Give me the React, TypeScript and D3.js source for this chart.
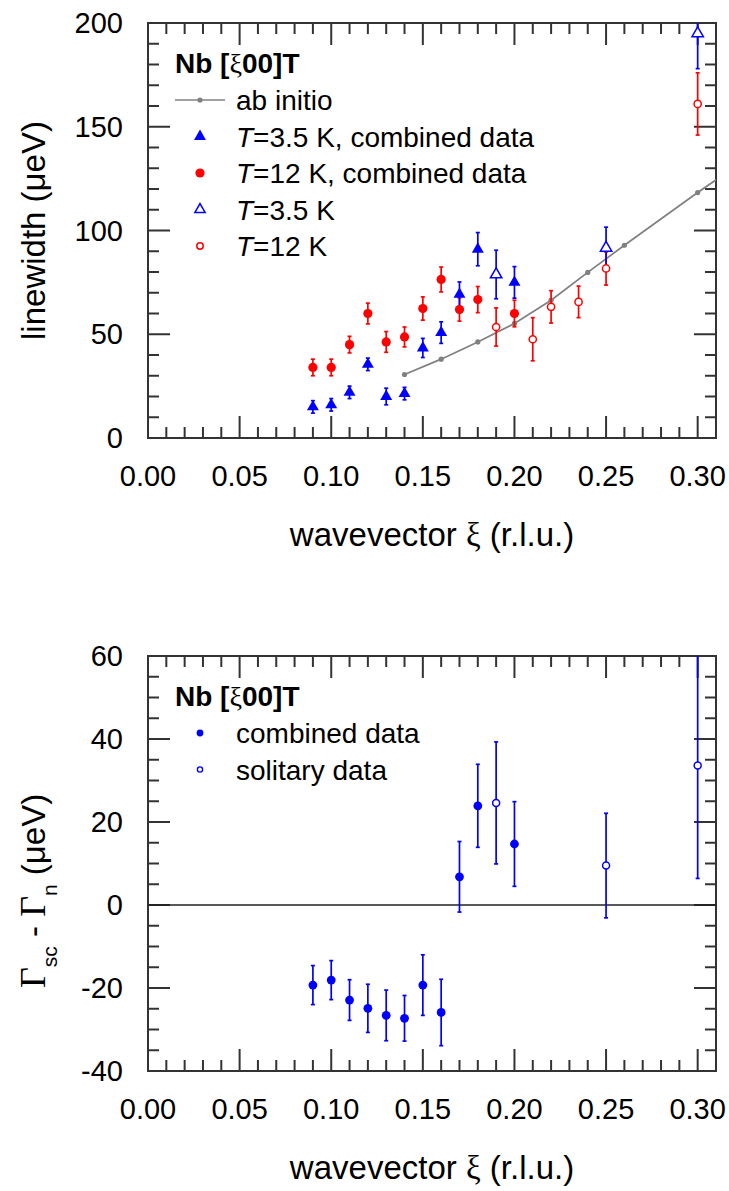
import React from 'react';
import * as d3 from 'd3';

// ---------- data ----------
const abInitioXi = [0.14, 0.16, 0.18, 0.2, 0.22, 0.24, 0.26, 0.3, 0.32];
const abInitioWidth = [30.6, 38.0, 46.3, 55.2, 66.4, 79.8, 92.9, 118.3, 130.5];

const comb35Xi = [0.09, 0.1, 0.11, 0.12, 0.13, 0.14, 0.15, 0.16, 0.17, 0.18, 0.2];
const comb35Width = [15, 16, 22, 35.5, 20, 21.4, 43.4, 50.8, 69.2, 91, 75];
const comb35Err = [3, 3, 3, 3, 4, 3, 4.6, 5.2, 6, 8, 7.6];

const comb12Xi = [0.09, 0.1, 0.11, 0.12, 0.13, 0.14, 0.15, 0.16, 0.17, 0.18, 0.2];
const comb12Width = [34, 34, 45, 60, 46.3, 48.7, 62.4, 76.4, 61.9, 66.7, 60];
const comb12Err = [4, 4, 4, 5, 5, 4.8, 5.6, 6, 5.6, 6.3, 6.4];

const sol35Xi = [0.19, 0.25, 0.3];
const sol35Width = [78.8, 91.6, 195];
const sol35Err = [11.7, 10, 17];

const sol12Xi = [0.19, 0.21, 0.22, 0.235, 0.25, 0.3];
const sol12Width = [53.5, 47.6, 63.2, 65.6, 81.7, 161];
const sol12Err = [9.2, 10.4, 7.8, 7.6, 8, 15];

const diffCombXi = [0.09, 0.1, 0.11, 0.12, 0.13, 0.14, 0.15, 0.16, 0.17, 0.18, 0.2];
const diffCombVal = [-19.3, -18.1, -22.9, -24.9, -26.6, -27.3, -19.3, -25.9, 6.8, 23.9, 14.7];
const diffCombErr = [4.7, 4.7, 4.9, 5.8, 6.1, 5.5, 7.3, 8, 8.5, 10, 10.2];

const diffSolXi = [0.19, 0.25, 0.3];
const diffSolVal = [24.6, 9.5, 33.6];
const diffSolErr = [14.7, 12.6, 27.2];

const xTickLabels = ['0.00', '0.05', '0.10', '0.15', '0.20', '0.25', '0.30'];
const topYTickLabels = ['0', '50', '100', '150', '200'];
const botYTickLabels = ['-40', '-20', '0', '20', '40', '60'];

// ---------- layout ----------
const W = 729;
const H = 1191;
const L = 148;
const R = 716;
const T1 = 23;
const B1 = 438;
const T2 = 656;
const B2 = 1071;
const SANS = '"Liberation Sans", Arial, Helvetica, sans-serif';
const SERIF = '"Liberation Serif", "Times New Roman", serif';
const AX = '#333333';
const BLUE = '#0000ff';
const RED = '#ff0000';
const GRAY = '#808080';
const FS = 28; // legend
const FT = 29; // tick labels
const FA = 33; // axis titles

const x = d3.scaleLinear().domain([0, 0.31]).range([L, R]);
const yTop = d3.scaleLinear().domain([0, 200]).range([B1, T1]);
const yBot = d3.scaleLinear().domain([-40, 60]).range([B2, T2]);

const triPath = d3.symbol(d3.symbolTriangle, 62)() as string;

function Frame({ y, top, bottom, minorStep, majorStep, yLabels }: any) {
  const [y0, y1] = y.domain();
  const xMinor = d3.range(1, 31).map((i) => i / 100);
  const nY = Math.round((y1 - y0) / minorStep);
  const yMinor = d3.range(1, nY).map((i) => y0 + i * minorStep);
  const els: any[] = [];
  xMinor.forEach((v, i) => {
    const major = (i + 1) % 5 === 0;
    const len = major ? 22 : 11;
    const px = x(v);
    els.push(<line key={'xb' + i} x1={px} x2={px} y1={bottom} y2={bottom - len} stroke={AX} strokeWidth={2} />);
    els.push(<line key={'xt' + i} x1={px} x2={px} y1={top} y2={top + len} stroke={AX} strokeWidth={2} />);
  });
  yMinor.forEach((v, i) => {
    const major = Math.abs(Math.round(v / majorStep) * majorStep - v) < 1e-9;
    const len = major ? 22 : 11;
    const py = y(v);
    els.push(<line key={'yl' + i} x1={L} x2={L + len} y1={py} y2={py} stroke={AX} strokeWidth={2} />);
    els.push(<line key={'yr' + i} x1={R} x2={R - len} y1={py} y2={py} stroke={AX} strokeWidth={2} />);
  });
  return (
    <g>
      {els}
      <rect x={L} y={top} width={R - L} height={bottom - top} fill="none" stroke={AX} strokeWidth={2} />
      {xTickLabels.map((t) => (
        <text key={'xl' + t} x={x(+t)} y={bottom + 48} fontSize={FT} fontFamily={SANS} textAnchor="middle" fill="#000">
          {t}
        </text>
      ))}
      {yLabels.map((t: string) => (
        <text key={'ylb' + t} x={L - 25} y={y(+t) + 10} fontSize={FT} fontFamily={SANS} textAnchor="end" fill="#000">
          {t}
        </text>
      ))}
      <text x={(L + R) / 2} y={bottom + 108} fontSize={FA} fontFamily={SANS} textAnchor="middle" fill="#000">
        wavevector <tspan fontFamily={SERIF}>ξ</tspan> (r.l.u.)
      </text>
    </g>
  );
}

function ErrBars({ xs, ys, es, y, color, clip }: any) {
  return (
    <g clipPath={clip} stroke={color} strokeWidth={1.7}>
      {xs.map((xv: number, i: number) => {
        const px = x(xv);
        const lo = y(ys[i] - es[i]);
        const hi = y(ys[i] + es[i]);
        return (
          <g key={i}>
            <line x1={px} x2={px} y1={lo} y2={hi} />
            <line x1={px - 2} x2={px + 2} y1={lo} y2={lo} />
            <line x1={px - 2} x2={px + 2} y1={hi} y2={hi} />
          </g>
        );
      })}
    </g>
  );
}

function Legend({ top, rows }: any) {
  return (
    <g>
      <text x={175} y={top + 50} fontSize={FS} fontWeight="bold" fontFamily={SANS} fill="#000">
        Nb [<tspan fontFamily={SERIF} fontWeight="normal">ξ</tspan>00]T
      </text>
      {rows.map((r: any, i: number) => {
        const cy = top + 77 + i * 36.5;
        return (
          <g key={i}>
            {r.marker(200, cy)}
            <text x={236} y={cy + 10} fontSize={FS} fontFamily={SANS} fill="#000">
              {r.label}
            </text>
          </g>
        );
      })}
    </g>
  );
}

function TLabel({ temp, rest }: any) {
  return (
    <>
      <tspan fontStyle="italic">T</tspan>
      {'=' + temp + ' K' + rest}
    </>
  );
}

export default function App() {
  const line = d3
    .line<number>()
    .x((_, i) => x(abInitioXi[i]))
    .y((d) => yTop(d));

  const topRows = [
    {
      marker: (cx: number, cy: number) => (
        <g>
          <line x1={cx - 25} x2={cx + 25} y1={cy} y2={cy} stroke={GRAY} strokeWidth={1.7} />
          <circle cx={cx} cy={cy} r={2.6} fill={GRAY} />
        </g>
      ),
      label: 'ab initio',
    },
    {
      marker: (cx: number, cy: number) => <path d={triPath} transform={`translate(${cx},${cy})`} fill={BLUE} />,
      label: <TLabel temp="3.5" rest=", combined data" />,
    },
    {
      marker: (cx: number, cy: number) => <circle cx={cx} cy={cy} r={4.6} fill={RED} />,
      label: <TLabel temp="12" rest=", combined data" />,
    },
    {
      marker: (cx: number, cy: number) => (
        <path d={triPath} transform={`translate(${cx},${cy}) scale(0.85)`} fill="#fff" stroke={BLUE} strokeWidth={1.8} />
      ),
      label: <TLabel temp="3.5" rest="" />,
    },
    {
      marker: (cx: number, cy: number) => <circle cx={cx} cy={cy} r={3.2} fill="#fff" stroke={RED} strokeWidth={1.5} />,
      label: <TLabel temp="12" rest="" />,
    },
  ];

  const botRows = [
    {
      marker: (cx: number, cy: number) => <circle cx={cx} cy={cy} r={3.4} fill={BLUE} />,
      label: 'combined data',
    },
    {
      marker: (cx: number, cy: number) => <circle cx={cx} cy={cy} r={2.6} fill="#fff" stroke={BLUE} strokeWidth={1.4} />,
      label: 'solitary data',
    },
  ];

  return (
    <svg width={W} height={H} style={{ position: 'absolute', left: 0, top: 0, background: '#fff' }}>
      <defs>
        <clipPath id="c1">
          <rect x={L} y={T1} width={R - L} height={B1 - T1} />
        </clipPath>
        <clipPath id="c2">
          <rect x={L} y={T2} width={R - L} height={B2 - T2} />
        </clipPath>
      </defs>
      <rect x={0} y={0} width={W} height={H} fill="#fff" />

      {/* ---------- top panel ---------- */}
      <Frame y={yTop} top={T1} bottom={B1} minorStep={10} majorStep={50} yLabels={topYTickLabels} />
      <text
        transform={`translate(45,${(T1 + B1) / 2}) rotate(-90)`}
        fontSize={FA}
        fontFamily={SANS}
        textAnchor="middle"
        fill="#000"
      >
        linewidth (μeV)
      </text>
      <g clipPath="url(#c1)">
        <path d={line(abInitioWidth) as string} fill="none" stroke={GRAY} strokeWidth={1.7} />
        {abInitioWidth.map((v, i) => (
          <circle key={i} cx={x(abInitioXi[i])} cy={yTop(v)} r={2.6} fill={GRAY} />
        ))}
      </g>
      <ErrBars xs={comb12Xi} ys={comb12Width} es={comb12Err} y={yTop} color={RED} clip="url(#c1)" />
      <ErrBars xs={comb35Xi} ys={comb35Width} es={comb35Err} y={yTop} color={BLUE} clip="url(#c1)" />
      <ErrBars xs={sol12Xi} ys={sol12Width} es={sol12Err} y={yTop} color={RED} clip="url(#c1)" />
      <ErrBars xs={sol35Xi} ys={sol35Width} es={sol35Err} y={yTop} color={BLUE} clip="url(#c1)" />
      {comb12Width.map((v, i) => (
        <circle key={'r' + i} cx={x(comb12Xi[i])} cy={yTop(v)} r={4.6} fill={RED} />
      ))}
      {comb35Width.map((v, i) => (
        <path key={'b' + i} d={triPath} transform={`translate(${x(comb35Xi[i])},${yTop(v)})`} fill={BLUE} />
      ))}
      {sol12Width.map((v, i) => (
        <circle key={'or' + i} cx={x(sol12Xi[i])} cy={yTop(v)} r={3.6} fill="#fff" stroke={RED} strokeWidth={1.5} />
      ))}
      {sol35Width.map((v, i) => (
        <path
          key={'ob' + i}
          d={triPath}
          transform={`translate(${x(sol35Xi[i])},${yTop(v)}) scale(0.95)`}
          fill="#fff"
          stroke={BLUE}
          strokeWidth={1.6}
        />
      ))}
      <Legend top={T1} rows={topRows} />

      {/* ---------- bottom panel ---------- */}
      <Frame y={yBot} top={T2} bottom={B2} minorStep={5} majorStep={20} yLabels={botYTickLabels} />
      <line x1={L} x2={R} y1={yBot(0)} y2={yBot(0)} stroke="#222" strokeWidth={1.6} />
      <text
        transform={`translate(45,988) rotate(-90)`}
        fontSize={FA}
        fontFamily={SANS}
        textAnchor="start"
        fill="#000"
      >
        <tspan fontFamily={SERIF} fontSize={36}>Γ</tspan>
        <tspan fontSize={21} dy={12}>sc</tspan>
        <tspan dy={-12}> - </tspan>
        <tspan fontFamily={SERIF} fontSize={36}>Γ</tspan>
        <tspan fontSize={21} dy={12}>n</tspan>
        <tspan dy={-12}> (μeV)</tspan>
      </text>
      <ErrBars xs={diffCombXi} ys={diffCombVal} es={diffCombErr} y={yBot} color={BLUE} clip="url(#c2)" />
      <ErrBars xs={diffSolXi} ys={diffSolVal} es={diffSolErr} y={yBot} color={BLUE} clip="url(#c2)" />
      {diffCombVal.map((v, i) => (
        <circle key={'dc' + i} cx={x(diffCombXi[i])} cy={yBot(v)} r={4.4} fill={BLUE} />
      ))}
      {diffSolVal.map((v, i) => (
        <circle key={'ds' + i} cx={x(diffSolXi[i])} cy={yBot(v)} r={3.5} fill="#fff" stroke={BLUE} strokeWidth={1.5} />
      ))}
      <Legend top={T2} rows={botRows} />
    </svg>
  );
}
